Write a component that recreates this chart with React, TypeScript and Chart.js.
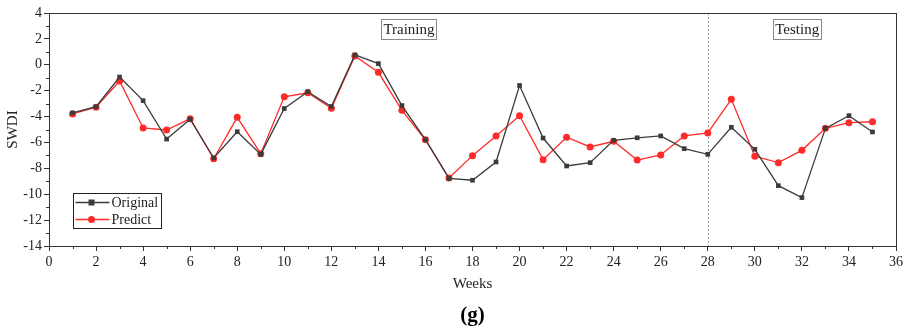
import React, { useEffect, useRef } from "react";
import { Chart, registerables } from "chart.js";

Chart.register(...registerables);

const weeks = [1,2,3,4,5,6,7,8,9,10,11,12,13,14,15,16,17,18,19,20,21,22,23,24,25,26,27,28,29,30,31,32,33,34,35];
const original = [-3.72,-3.24,-0.95,-2.77,-5.74,-4.21,-7.2,-5.17,-6.92,-3.38,-2.08,-3.22,0.76,0.09,-3.15,-5.78,-8.78,-8.92,-7.51,-1.6,-5.66,-7.82,-7.56,-5.84,-5.64,-5.5,-6.48,-6.92,-4.83,-6.53,-9.34,-10.26,-4.91,-3.93,-5.19];
const predict = [-3.8,-3.28,-1.25,-4.88,-5.04,-4.16,-7.26,-4.06,-6.87,-2.47,-2.16,-3.36,0.68,-0.58,-3.52,-5.79,-8.75,-7.02,-5.5,-3.93,-7.33,-5.6,-6.35,-5.91,-7.36,-6.97,-5.5,-5.27,-2.67,-7.07,-7.56,-6.61,-4.91,-4.47,-4.4];
const seriesLabels = ["Original", "Predict"];
const splitWeek = 28;
const phaseLabels = [
  { text: "Training", x: 15.3 },
  { text: "Testing", x: 31.8 },
];
const xTitle = "Weeks";
const yTitle = "SWDI";
const panelLabel = "(g)";

const FONT = "'Liberation Serif', 'Times New Roman', serif";
const BLACK = "#3c3c3c";
const RED = "#ff2a2a";

const decorPlugin = {
  id: "decor",
  beforeDatasetsDraw(chart: any) {
    const { ctx, chartArea: a, scales } = chart;
    const xs = scales.x;
    ctx.save();
    ctx.strokeStyle = "#9a9a9a";
    ctx.lineWidth = 1;
    ctx.setLineDash([2, 2]);
    const px = Math.round(xs.getPixelForValue(splitWeek)) + 0.5;
    ctx.beginPath();
    ctx.moveTo(px, a.top);
    ctx.lineTo(px, a.bottom);
    ctx.stroke();
    ctx.restore();
  },
  afterDraw(chart: any) {
    const { ctx, chartArea: a, scales } = chart;
    const xs = scales.x;
    const ys = scales.y;
    ctx.save();
    // frame
    ctx.strokeStyle = "#333";
    ctx.lineWidth = 1;
    ctx.strokeRect(Math.round(a.left) + 0.5, Math.round(a.top) + 0.5, Math.round(a.right - a.left), Math.round(a.bottom - a.top));
    // minor ticks
    ctx.beginPath();
    for (let v = 1; v < 36; v += 2) {
      const p = Math.round(xs.getPixelForValue(v)) + 0.5;
      ctx.moveTo(p, a.bottom);
      ctx.lineTo(p, a.bottom + 3);
    }
    for (let v = -13; v < 4; v += 2) {
      const p = Math.round(ys.getPixelForValue(v)) + 0.5;
      ctx.moveTo(a.left, p);
      ctx.lineTo(a.left - 3, p);
    }
    ctx.stroke();
    // phase labels
    ctx.font = `15px ${FONT}`;
    ctx.textAlign = "center";
    ctx.textBaseline = "middle";
    for (const ph of phaseLabels) {
      const cx = xs.getPixelForValue(ph.x);
      const w = ctx.measureText(ph.text).width + 4;
      const cy = a.top + 16;
      ctx.strokeStyle = "#8a8a8a";
      ctx.strokeRect(Math.round(cx - w / 2) + 0.5, Math.round(cy - 10) + 0.5, Math.round(w), 20);
      ctx.fillStyle = "#222";
      ctx.fillText(ph.text, cx, cy + 1);
    }
    // legend
    const lx = Math.round(a.left + 24) + 0.5;
    const ly = Math.round(a.bottom - 53) + 0.5;
    ctx.fillStyle = "#fff";
    ctx.fillRect(lx, ly, 88, 35);
    ctx.strokeStyle = "#222";
    ctx.strokeRect(lx, ly, 88, 35);
    const items = [
      { label: chart.data.datasets[0].label, color: BLACK, rect: true },
      { label: chart.data.datasets[1].label, color: RED, rect: false },
    ];
    items.forEach((it, i) => {
      const y = ly + 9 + i * 17;
      ctx.strokeStyle = it.color;
      ctx.lineWidth = 1.3;
      ctx.beginPath();
      ctx.moveTo(lx + 2, y);
      ctx.lineTo(lx + 36, y);
      ctx.stroke();
      ctx.fillStyle = it.color;
      if (it.rect) {
        ctx.fillRect(lx + 18 - 3, y - 3, 6, 6);
      } else {
        ctx.beginPath();
        ctx.arc(lx + 18, y, 3.5, 0, Math.PI * 2);
        ctx.fill();
      }
      ctx.fillStyle = "#222";
      ctx.font = `14px ${FONT}`;
      ctx.textAlign = "left";
      ctx.textBaseline = "middle";
      ctx.fillText(it.label, lx + 38, y + 1);
    });
    // panel label
    ctx.font = `bold 21px ${FONT}`;
    ctx.textAlign = "center";
    ctx.textBaseline = "middle";
    ctx.fillStyle = "#000";
    ctx.fillText(panelLabel, (a.left + a.right) / 2, 316);
    ctx.restore();
  },
};

export default function App() {
  const ref = useRef<HTMLCanvasElement>(null);
  useEffect(() => {
    if (!ref.current) return;
    const chart = new Chart(ref.current, {
      type: "line",
      data: {
        datasets: [
          {
            label: seriesLabels[0],
            data: weeks.map((w, i) => ({ x: w, y: original[i] })),
            borderColor: BLACK,
            backgroundColor: BLACK,
            borderWidth: 1.3,
            pointStyle: "rect",
            pointRadius: 3.3,
            pointBorderWidth: 0,
            tension: 0,
          },
          {
            label: seriesLabels[1],
            data: weeks.map((w, i) => ({ x: w, y: predict[i] })),
            borderColor: RED,
            backgroundColor: RED,
            borderWidth: 1.3,
            pointStyle: "circle",
            pointRadius: 3.5,
            pointBorderWidth: 0,
            tension: 0,
          },
        ],
      },
      options: {
        responsive: false,
        animation: false,
        layout: { padding: { left: 0, right: 17, top: 13, bottom: 36 } },
        plugins: { legend: { display: false }, tooltip: { enabled: false } },
        scales: {
          x: {
            type: "linear",
            min: 0,
            max: 36,
            ticks: { stepSize: 2, color: "#222", font: { family: FONT, size: 14 }, padding: 3, maxRotation: 0, autoSkip: false },
            grid: { drawOnChartArea: false, drawTicks: true, tickLength: 5, color: "#333" },
            border: { display: true, color: "#333" },
            title: { display: true, text: xTitle, color: "#222", font: { family: FONT, size: 15 } },
            afterFit: (s: any) => { s.height = 51; },
          },
          y: {
            type: "linear",
            min: -14,
            max: 4,
            ticks: { stepSize: 2, color: "#222", font: { family: FONT, size: 14 }, padding: 2 },
            grid: { drawOnChartArea: false, drawTicks: true, tickLength: 5, color: "#333" },
            border: { display: true, color: "#333" },
            title: { display: true, text: yTitle, color: "#222", font: { family: FONT, size: 15 } },
            afterFit: (s: any) => { s.width = 49; },
          },
        },
      },
      plugins: [decorPlugin],
    });
    return () => chart.destroy();
  }, []);
  return (
    <div style={{ position: "fixed", left: 0, top: 0, width: 913, height: 333, background: "#fff" }}>
      <canvas ref={ref} width={913} height={333} />
    </div>
  );
}
